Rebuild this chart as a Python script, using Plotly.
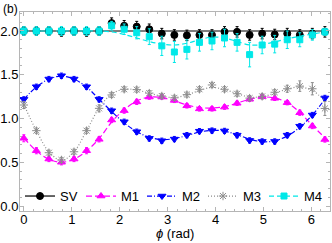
import numpy as np
import plotly.graph_objects as go

# phase grid, 25 points from 0 to 2*pi
phi = [i * np.pi / 12 for i in range(25)]

sv = [2.00, 2.00, 2.00, 1.99, 2.00, 1.99, 2.00, 2.09, 2.06, 2.05, 2.02, 1.97, 1.955,
      1.95, 1.955, 1.955, 1.99, 1.99, 1.955, 1.97, 1.96, 1.97, 1.955, 1.97, 1.99]
sv_err = [0.05] * 7 + [0.06] * 18

m1 = [0.774, 0.632, 0.537, 0.50, 0.537, 0.632, 0.762, 0.983, 1.09, 1.19, 1.245, 1.245, 1.207,
      1.145, 1.11, 1.11, 1.13, 1.174, 1.22, 1.249, 1.231, 1.181, 1.066, 0.914, 0.76]
m1_err = [0.04, 0.035, 0.03, 0.03, 0.03, 0.035, 0.03, 0.03, 0.03, 0.03, 0.025, 0.025, 0.025,
          0.025, 0.025, 0.025, 0.025, 0.025, 0.025, 0.025, 0.025, 0.025, 0.03, 0.03, 0.03]

m2 = [1.219, 1.363, 1.451, 1.489, 1.451, 1.363, 1.219, 1.089, 0.963, 0.849, 0.773, 0.746, 0.765,
      0.81, 0.855, 0.862, 0.858, 0.81, 0.75, 0.738, 0.738, 0.81, 0.912, 1.04, 1.235]
m2_err = [0.03] * 25

m3 = [1.154, 0.861, 0.609, 0.526, 0.62, 0.861, 1.116, 1.269, 1.334, 1.33, 1.29, 1.257, 1.236,
      1.273, 1.334, 1.383, 1.334, 1.283, 1.233, 1.253, 1.30, 1.34, 1.37, 1.34, 1.115]
m3_err = [0.04, 0.03, 0.03, 0.03, 0.03, 0.03, 0.04, 0.03, 0.03, 0.03, 0.03, 0.03, 0.03,
          0.03, 0.03, 0.03, 0.03, 0.03, 0.03, 0.03, 0.03, 0.04, 0.06, 0.07, 0.08]

m4 = [2.00, 2.00, 2.00, 2.00, 2.00, 2.00, 2.00, 2.06, 2.02, 1.98, 1.935, 1.83, 1.76,
      1.79, 1.87, 1.886, 1.92, 1.87, 1.73, 1.84, 1.85, 1.90, 1.90, 1.955, 1.99]
m4_err = [0.05] * 7 + [0.05, 0.06, 0.07, 0.09, 0.11, 0.12, 0.11, 0.1, 0.1, 0.1, 0.1,
                       0.14, 0.1, 0.1, 0.1, 0.08, 0.06, 0.04]

# fitted curves at the same phases
sv_fit = [2.0] * 25
m1_fit = [0.78, 0.63, 0.535, 0.50, 0.535, 0.63, 0.77, 0.96, 1.10, 1.20, 1.245, 1.24, 1.20,
          1.155, 1.125, 1.12, 1.135, 1.175, 1.22, 1.245, 1.235, 1.18, 1.07, 0.92, 0.78]
m2_fit = [1.22, 1.36, 1.45, 1.485, 1.45, 1.36, 1.22, 1.08, 0.95, 0.85, 0.785, 0.76, 0.77,
          0.805, 0.845, 0.865, 0.855, 0.815, 0.765, 0.735, 0.745, 0.80, 0.90, 1.04, 1.22]
m3_fit = [1.16, 0.86, 0.62, 0.52, 0.62, 0.86, 1.12, 1.28, 1.335, 1.325, 1.29, 1.255, 1.24,
          1.27, 1.32, 1.355, 1.33, 1.285, 1.245, 1.25, 1.29, 1.335, 1.36, 1.32, 1.20]
m4_fit = [2.0, 2.0, 2.0, 2.0, 2.0, 2.0, 2.0, 1.99, 1.96, 1.92, 1.88, 1.85, 1.84,
          1.86, 1.90, 1.93, 1.92, 1.88, 1.84, 1.845, 1.875, 1.91, 1.94, 1.965, 1.99]

names = ['SV', 'M1', 'M2', 'M3', 'M4']
colors = ['black', '#ff00ff', '#0000ff', '#8c8c8c', '#00e8e8']
symbols = ['circle', 'triangle-up', 'triangle-down', 'asterisk-open', 'square']
sizes = [7, 7, 7, 7, 6]
dashes = ['solid', '6px,3px', '5px,2px,1px,2px', '1px,2px', '5px,3px']
points = [sv, m1, m2, m3, m4]
errors = [sv_err, m1_err, m2_err, m3_err, m4_err]
fits = [sv_fit, m1_fit, m2_fit, m3_fit, m4_fit]

fig = go.Figure()
for name, c, sym, sz, d, y, e, f in zip(names, colors, symbols, sizes, dashes, points, errors, fits):
    fig.add_trace(go.Scatter(x=phi, y=f, mode='lines', line=dict(color=c, width=1.2, dash=d, shape='spline'),
                             showlegend=False, hoverinfo='skip'))
    fig.add_trace(go.Scatter(x=phi, y=y, mode='markers',
                             marker=dict(color=c, symbol=sym, size=sz, line=dict(color=c, width=1)),
                             error_y=dict(type='data', array=e, color=c, thickness=1, width=1.5),
                             showlegend=False))

# legend entries (line + marker)
for name, c, sym, sz, d in zip(names, colors, symbols, sizes, dashes):
    fig.add_trace(go.Scatter(x=[None], y=[None], mode='lines+markers', name=name,
                             line=dict(color=c, width=1.2, dash=d),
                             marker=dict(color=c, symbol=sym, size=sz, line=dict(color=c, width=1))))

axis_style = dict(showline=True, linecolor='#b5b5b5', linewidth=1, mirror='ticks', ticks='inside',
                  tickcolor='#b5b5b5', ticklen=4, showgrid=False, zeroline=False, automargin=False,
                  tickfont=dict(size=13, color='black'))

fig.update_layout(
    width=332, height=243,
    margin=dict(l=20, r=2, t=12, b=32),
    plot_bgcolor='white', paper_bgcolor='white',
    font=dict(family='Liberation Sans, Arial, sans-serif', size=13, color='black'),
    xaxis=dict(range=[-0.08, 6.39], tickvals=[0, 1, 2, 3, 4, 5, 6], ticklabelstandoff=-4,
               minor=dict(ticks='inside', ticklen=2, tickcolor='#b5b5b5', dtick=0.2), **axis_style),
    yaxis=dict(range=[-0.057, 2.217], tickvals=[0, 0.5, 1, 1.5, 2], tickformat='.1f',
               ticklabelstandoff=-2,
               minor=dict(ticks='inside', ticklen=2, tickcolor='#b5b5b5', dtick=0.1), **axis_style),
    legend=dict(orientation='h', x=0, y=0.075, xanchor='left', yanchor='middle',
                bgcolor='rgba(0,0,0,0)', font=dict(size=13), itemwidth=30,
                entrywidth=16, entrywidthmode='pixels'),
    annotations=[
        dict(text='(b)', xref='paper', yref='paper', x=-0.062, y=1.06, xanchor='left',
             yanchor='top', showarrow=False, font=dict(size=12)),
        dict(text='<i>ϕ</i> (rad)', xref='paper', yref='paper', x=0.5, y=-0.112, xanchor='center',
             yanchor='middle', showarrow=False, font=dict(size=13)),
    ],
)

# page body has a default 8px margin; remove it so the figure sits at the window corner
fig.write_html('out.html', config={'displayModeBar': False},
               post_script="document.body.style.margin='0';")
